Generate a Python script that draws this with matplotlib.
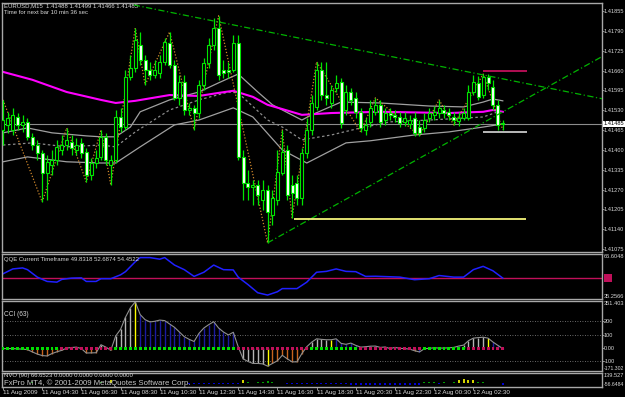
import numpy as np
import matplotlib
matplotlib.use('Agg')
import matplotlib.pyplot as plt
import matplotlib.transforms as mtrans
from matplotlib.ticker import FormatStrFormatter

plt.rcParams['font.family'] = ['Liberation Sans', 'DejaVu Sans']

# EURUSD M15 bars, 11 Aug 2009 02:30 .. 12 Aug 2009 04:00
opens = [1.41466, 1.41482, 1.41466, 1.41508, 1.41482, 1.41492, 1.41443, 1.41416, 1.41390, 1.41325,
         1.41351, 1.41367, 1.41400, 1.41416, 1.41426, 1.41400, 1.41423, 1.41393, 1.41318, 1.41357,
         1.41377, 1.41443, 1.41351, 1.41367, 1.41508, 1.41475, 1.41639, 1.41669, 1.41744, 1.41695,
         1.41662, 1.41646, 1.41653, 1.41689, 1.41751, 1.41679, 1.41571, 1.41623, 1.41531, 1.41538,
         1.41521, 1.41613, 1.41685, 1.41744, 1.41800, 1.41662, 1.41662, 1.41662, 1.41751, 1.41377,
         1.41292, 1.41279, 1.41285, 1.41236, 1.41269, 1.41187, 1.41236, 1.41325, 1.41400, 1.41285,
         1.41292, 1.41243, 1.41390, 1.41466, 1.41541, 1.41662, 1.41580, 1.41554, 1.41603, 1.41623,
         1.41531, 1.41590, 1.41571, 1.41525, 1.41466, 1.41492, 1.41525, 1.41548, 1.41498, 1.41521,
         1.41515, 1.41508, 1.41492, 1.41485, 1.41505, 1.41475, 1.41472, 1.41505, 1.41515, 1.41521,
         1.41531, 1.41525, 1.41508, 1.41495, 1.41505, 1.41505, 1.41590, 1.41620, 1.41580, 1.41639,
         1.41607, 1.41548, 1.41488]
highs = [1.41564, 1.41525, 1.41538, 1.41521, 1.41515, 1.41505, 1.41456, 1.41433, 1.41400, 1.41384,
         1.41400, 1.41433, 1.41449, 1.41472, 1.41449, 1.41439, 1.41439, 1.41407, 1.41374, 1.41400,
         1.41466, 1.41456, 1.41384, 1.41531, 1.41538, 1.41662, 1.41712, 1.41800, 1.41787, 1.41712,
         1.41689, 1.41695, 1.41712, 1.41767, 1.41787, 1.41695, 1.41646, 1.41646, 1.41554, 1.41548,
         1.41630, 1.41702, 1.41767, 1.41833, 1.41840, 1.41695, 1.41689, 1.41777, 1.41777, 1.41400,
         1.41334, 1.41302, 1.41302, 1.41302, 1.41285, 1.41269, 1.41400, 1.41466, 1.41416, 1.41318,
         1.41318, 1.41407, 1.41505, 1.41580, 1.41689, 1.41689, 1.41689, 1.41613, 1.41646, 1.41636,
         1.41613, 1.41603, 1.41590, 1.41538, 1.41505, 1.41564, 1.41571, 1.41564, 1.41538, 1.41538,
         1.41531, 1.41525, 1.41525, 1.41515, 1.41525, 1.41498, 1.41521, 1.41538, 1.41544, 1.41564,
         1.41548, 1.41538, 1.41525, 1.41525, 1.41538, 1.41613, 1.41646, 1.41643, 1.41649, 1.41649,
         1.41630, 1.41564, 1.41499]
lows = [1.41416, 1.41456, 1.41449, 1.41466, 1.41459, 1.41433, 1.41400, 1.41367, 1.41229, 1.41236,
        1.41318, 1.41351, 1.41384, 1.41400, 1.41384, 1.41384, 1.41374, 1.41295, 1.41302, 1.41341,
        1.41367, 1.41351, 1.41285, 1.41357, 1.41459, 1.41466, 1.41630, 1.41656, 1.41679, 1.41613,
        1.41630, 1.41636, 1.41636, 1.41679, 1.41669, 1.41564, 1.41548, 1.41515, 1.41515, 1.41466,
        1.41505, 1.41597, 1.41669, 1.41728, 1.41630, 1.41636, 1.41636, 1.41656, 1.41367, 1.41236,
        1.41236, 1.41220, 1.41220, 1.41203, 1.41095, 1.41154, 1.41220, 1.41318, 1.41236, 1.41177,
        1.41220, 1.41220, 1.41374, 1.41449, 1.41531, 1.41564, 1.41548, 1.41538, 1.41590, 1.41472,
        1.41515, 1.41548, 1.41505, 1.41459, 1.41449, 1.41475, 1.41515, 1.41475, 1.41482, 1.41498,
        1.41492, 1.41475, 1.41479, 1.41472, 1.41446, 1.41446, 1.41459, 1.41492, 1.41498, 1.41505,
        1.41505, 1.41498, 1.41482, 1.41479, 1.41498, 1.41498, 1.41580, 1.41564, 1.41571, 1.41597,
        1.41531, 1.41466, 1.41466]
closes = [1.41498, 1.41505, 1.41515, 1.41482, 1.41492, 1.41443, 1.41416, 1.41390, 1.41325, 1.41361,
          1.41367, 1.41410, 1.41416, 1.41433, 1.41407, 1.41416, 1.41390, 1.41318, 1.41357, 1.41374,
          1.41443, 1.41367, 1.41367, 1.41508, 1.41475, 1.41639, 1.41669, 1.41761, 1.41695, 1.41662,
          1.41646, 1.41662, 1.41689, 1.41754, 1.41679, 1.41571, 1.41623, 1.41531, 1.41538, 1.41521,
          1.41613, 1.41685, 1.41744, 1.41800, 1.41646, 1.41653, 1.41656, 1.41751, 1.41377, 1.41292,
          1.41279, 1.41285, 1.41252, 1.41269, 1.41197, 1.41243, 1.41328, 1.41393, 1.41252, 1.41259,
          1.41243, 1.41390, 1.41466, 1.41554, 1.41662, 1.41580, 1.41571, 1.41597, 1.41620, 1.41489,
          1.41590, 1.41564, 1.41525, 1.41472, 1.41482, 1.41538, 1.41548, 1.41492, 1.41521, 1.41515,
          1.41508, 1.41489, 1.41505, 1.41498, 1.41456, 1.41456, 1.41498, 1.41521, 1.41525, 1.41538,
          1.41521, 1.41515, 1.41498, 1.41505, 1.41521, 1.41590, 1.41623, 1.41574, 1.41639, 1.41620,
          1.41548, 1.41482, 1.41485]

# moving average (magenta) and the three grey envelope lines, read at a few bars
ma_bars = [0, 6, 13, 20, 23, 27, 34, 40, 44, 47, 51, 54, 57, 61, 67, 77, 91, 98, 100, 102]
ma_vals = [1.41656, 1.41630, 1.41590, 1.41564, 1.41554, 1.41561, 1.41580, 1.41577, 1.41587, 1.41594,
           1.41574, 1.41548, 1.41534, 1.41515, 1.41521, 1.41525, 1.41521, 1.41525, 1.41531, 1.41525]
up_bars = [0, 5, 10, 17, 20, 23, 26, 28, 34, 40, 44, 48, 52, 55, 57, 61, 63, 69, 77, 87, 94, 98, 100, 102]
up_vals = [1.41456, 1.41472, 1.41456, 1.41446, 1.41443, 1.41443, 1.41475, 1.41525, 1.41564, 1.41590,
           1.41620, 1.41649, 1.41590, 1.41548, 1.41531, 1.41498, 1.41515, 1.41557, 1.41554, 1.41544,
           1.41541, 1.41557, 1.41567, 1.41561]
mid_bars = [0, 6, 13, 20, 23, 27, 34, 40, 46, 48, 54, 57, 61, 67, 73, 79, 87, 98, 101]
mid_vals = [1.41416, 1.41423, 1.41410, 1.41416, 1.41410, 1.41459, 1.41531, 1.41564, 1.41590, 1.41587,
            1.41498, 1.41475, 1.41433, 1.41449, 1.41472, 1.41492, 1.41498, 1.41508, 1.41525]
lo_bars = [0, 5, 13, 20, 23, 28, 35, 40, 47, 51, 57, 62, 70, 75, 84, 91, 98, 102]
lo_vals = [1.41361, 1.41377, 1.41361, 1.41357, 1.41357, 1.41410, 1.41482, 1.41498, 1.41538, 1.41508,
           1.41400, 1.41357, 1.41423, 1.41430, 1.41449, 1.41459, 1.41475, 1.41485]

# zigzag turning points: bar and whether it is a high
zz_bars = [0, 8, 13, 17, 20, 22, 27, 29, 34, 39, 44, 54, 57, 59, 64, 73, 76, 85, 89, 92, 98, 102]
zz_high = [1, 0, 1, 0, 1, 0, 1, 0, 1, 0, 1, 0, 1, 0, 1, 0, 1, 0, 1, 0, 1, 0]

# trend lines (start bar, anchor bars) and (anchor prices); short horizontal levels
tl_upper = [(26.7, 43, 98), (1.41823, 1.41646)]
tl_lower = [(54, 54, 98), (1.41095, 1.41489)]
levels = [(1.41174, 59.4, 106.7, '#f4f47a'), (1.41660, 98, 107, '#c0105a'), (1.41460, 98, 107, '#c8c8c8')]

# QQE
qqe_bars = [0, 2, 4, 5, 7, 9, 11, 12, 14, 16, 17, 19, 20, 22, 24, 25, 27, 28, 30, 32, 33, 35, 37, 39,
            41, 43, 45, 47, 48, 50, 52, 54, 56, 57, 60, 62, 64, 66, 68, 70, 72, 74, 76, 81, 84, 87,
            89, 92, 94, 96, 98, 100, 102]
qqe_vals = [52.8, 56.2, 56.9, 55.7, 50.5, 47.5, 47.0, 48.9, 49.8, 50.0, 47.5, 47.5, 49.4, 49.4, 52.1,
            54.3, 61.2, 64.1, 64.1, 63.0, 64.1, 58.9, 55.7, 51.0, 53.9, 58.9, 55.7, 55.5, 50.5, 45.3,
            39.6, 38.0, 40.3, 42.5, 42.5, 47.0, 53.9, 54.5, 56.2, 54.5, 54.3, 51.0, 51.1, 50.5, 48.7,
            49.4, 51.6, 50.5, 50.5, 55.7, 58.0, 54.9, 49.8]

# CCI(63) per bar, histogram colour code per bar, and the signal dots on the zero line
cci = [-4, -4, -4, -6, -8, -12, -29, -45, -56, -59, -41, -28, -17, 0, 4, 7, -4, -37, -36, -35,
       25, 7, -17, 90, 140, 230, 300, 345, 250, 212, 195, 200, 209, 205, 180, 155, 120, 85, 65, 49,
       110, 150, 175, 197, 150, 120, 98, 118, 10, -80, -100, -115, -115, -118, -135, -115, -95, -54, -80, -103,
       -103, -41, 10, 44, 69, 65, 62, 62, 69, 35, 28, 37, 20, 7, 10, 14, 15, 5, 8, -4,
       5, -2, -4, -8, -20, -29, -5, -2, 2, 0, 0, 2, 5, 15, 22, 55, 74, 78, 81, 74,
       45, 20, -4]
cci_col = list('oooooooooooooggggoooggo' 'ggggybbbbbbbbbbbbbbbbbbbb' 'ggggggyoooooooo'
               'ggggybbbbbbbbbbbobbbbobb' 'oobbbbbgggggybbbo')
dot_col = list('gggggggggggg' 'mmmmmmmmmmm' 'ggggggggggggggggggggggggg' 'mmmmmmmmmmmmmmm'
               'gggggggggg' 'mmmmmmmmmmmmm' 'ggggggggg' 'mmmmmmmm')

# NVO(90) histogram
nvo = [0, 0, 0, 0, 0, 0, 12, 0, 0, 0, 0, 0, 0, 0, 0, 0, 0, 0, 0, 0,
       12, 0, 35, 0, 0, 0, 0, 0, 0, 0, 0, 0, 0, 0, 0, 0, 0, 0, -8, -8,
       -8, -8, -8, -8, -8, -8, -8, -8, -8, 45, 12, 0, 20, 10, 22, 12, 5, 5, -8, -8,
       -8, -8, -8, -15, -15, -15, -15, -15, -15, -15, -15, -25, -25, -25, -25, -25, -25, -25, -25, -25,
       -25, -35, -35, -35, -35, -35, 8, 8, 8, -20, 8, 6, 12, 35, 50, 45, 40, 12, 10, 6,
       5, 0, -30]

date_bars = [0, 8, 16, 24, 32, 40, 48, 56, 64, 72, 80, 88, 96]
date_labels = ['11 Aug 2009', '11 Aug 04:30', '11 Aug 06:30', '11 Aug 08:30', '11 Aug 10:30',
               '11 Aug 12:30', '11 Aug 14:30', '11 Aug 16:30', '11 Aug 18:30', '11 Aug 20:30',
               '11 Aug 22:30', '12 Aug 00:30', '12 Aug 02:30']

W, H = 625, 397
FG = '#a8a8a8'
TXT = '#d8d8d8'
FS = 4.3
AX_FS = 4.05
fig = plt.figure(figsize=(W / 100, H / 100), dpi=100, facecolor='black')


def panel(x0, y0, x1, y1):
    a = fig.add_axes([x0 / W, 1 - y1 / H, (x1 - x0) / W, (y1 - y0) / H])
    a.set_facecolor('black')
    for s in a.spines.values():
        s.set_color(FG)
        s.set_linewidth(1)
    a.set_xlim(-0.2, 122.25)
    a.set_xticks([])
    a.yaxis.tick_right()
    a.tick_params(colors=FG, labelcolor=TXT, labelsize=AX_FS, length=1.2, width=0.6, pad=0.3)
    return a


bars = np.arange(len(closes))
o, h, l, c = (np.array(v) for v in (opens, highs, lows, closes))

# ---- main price window
ax = panel(2, 3, 602, 252)
ax.set_ylim(1.41065, 1.41882)
ax.set_yticks(1.41075 + 0.00065 * np.arange(13))
ax.yaxis.set_major_formatter(FormatStrFormatter('%.5f'))

ax.axhline(closes[-1], color='#8c8c8c', lw=0.8, zorder=1)
ax.plot(up_bars, up_vals, color='#a0a0a0', lw=0.9, zorder=2)
ax.plot(lo_bars, lo_vals, color='#a0a0a0', lw=0.9, zorder=2)
ax.plot(mid_bars, mid_vals, color='#8c8c8c', lw=0.9, dashes=(2, 2), zorder=2)
ax.plot(ma_bars, ma_vals, color='#ff00ff', lw=1.5, zorder=2)

zz_vals = [highs[b] if hi else lows[b] for b, hi in zip(zz_bars, zz_high)]
ax.plot(zz_bars, zz_vals, color='#d0882c', lw=0.9, dashes=(1, 1.5), zorder=2)

ax.vlines(bars, l, h, color='#00e600', lw=0.9, zorder=3)
body = np.maximum(np.abs(c - o), 0.000012)
ax.bar(bars, body, bottom=np.minimum(o, c), width=0.62,
       color=np.where(c >= o, 'black', 'white'), edgecolor='#00e600', linewidth=0.8, zorder=4)

for (start, b1, b2), (p1, p2) in (tl_upper, tl_lower):
    slope = (p2 - p1) / (b2 - b1)
    xs = np.array([start, 123])
    ax.plot(xs, p1 + slope * (xs - b1), color='#00b400', lw=0.9, dashes=(5, 2, 1, 2), zorder=5)

for price, b0, b1, col in levels:
    ax.hlines(price, b0, b1, color=col, lw=1.3, zorder=5)

ax.text(0.004, 0.998, 'EURUSD,M15  1.41488 1.41499 1.41466 1.41485', transform=ax.transAxes,
        va='top', ha='left', color=TXT, fontsize=FS)
ax.text(0.004, 0.970, 'Time for next bar 10 min 36 sec', transform=ax.transAxes,
        va='top', ha='left', color=TXT, fontsize=FS)
yt = mtrans.blended_transform_factory(ax.transAxes, ax.transData)
ax.text(1.003, closes[-1], '%.5f' % closes[-1], transform=yt, va='center', ha='left', fontsize=AX_FS,
        color='black', bbox=dict(boxstyle='square,pad=0.12', fc='white', ec='none'))

# ---- QQE window
aq = panel(2, 254, 602, 299)
aq.set_ylim(35.2566, 66.6048)
aq.set_yticks([])
aq.axhline(50, color='#c0105a', lw=1)
aq.plot(qqe_bars, qqe_vals, color='#2020ff', lw=1.1)
aq.text(0.004, 0.93, 'QQE Current Timeframe 49.8318 52.6874 54.4522', transform=aq.transAxes,
        va='top', color=TXT, fontsize=FS)
qt = mtrans.blended_transform_factory(aq.transAxes, aq.transData)
aq.text(1.003, 66.6048, '66.6048', transform=qt, va='top', color=TXT, fontsize=AX_FS)
aq.text(1.003, 35.2566, '35.2566', transform=qt, va='bottom', color=TXT, fontsize=AX_FS)
aq.text(1.005, 50, '50', transform=qt, va='center', color='#c0105a', fontsize=3.5,
        bbox=dict(boxstyle='square,pad=0.3', fc='#c0105a', ec='none'))

# ---- CCI window
ac = panel(2, 301, 602, 371)
ac.set_ylim(-171.302, 351.403)
for lev in (200, 100, -100):
    ac.axhline(lev, color='#8c8c8c', lw=0.6, dashes=(1, 2))
ac.set_yticks([200, 100, 0, -100])
ac.set_yticklabels(['200', '100', '0.00', '-100'])
hist_colors = {'o': '#c8641e', 'g': '#b4b4b4', 'b': '#1a1aa0', 'y': '#ffff00'}
ac.vlines(bars, 0, cci, colors=[hist_colors[k] for k in cci_col], lw=1.0)
ac.plot(bars, cci, color='#909090', lw=0.8)
dot_colors = {'g': '#00e000', 'm': '#c0105a'}
ac.scatter(bars, np.zeros(len(bars)), marker='s', s=4.5, c=[dot_colors[k] for k in dot_col],
           linewidths=0, zorder=5)
ac.text(0.004, 0.86, 'CCI (63)', transform=ac.transAxes, va='top', color=TXT, fontsize=FS + 0.4)
ct = mtrans.blended_transform_factory(ac.transAxes, ac.transData)
ac.text(1.003, 351.403, '351.403', transform=ct, va='top', color=TXT, fontsize=AX_FS)
ac.text(1.003, -171.302, '-171.302', transform=ct, va='bottom', color=TXT, fontsize=3.7)

# ---- NVO window
an = panel(2, 373, 602, 387)
an.set_ylim(-56.6484, 139.527)
an.set_yticks([])
nvo = np.array(nvo)
nvo_colors = np.where(nvo >= 30, '#ffff00', np.where(nvo > 0, '#00c000', '#0000ff'))
an.vlines(bars, 0, nvo, colors=nvo_colors, lw=1.2)
an.text(0.004, 0.97, 'NVO (90) 66.6523 0.0000 0.0000 0.0000 0.0000', transform=an.transAxes,
        va='top', color=TXT, fontsize=FS)
an.text(0.004, 0.0, 'FxPro MT4, \u00a9 2001-2009 MetaQuotes Software Corp.', transform=an.transAxes,
        va='bottom', color='#c8c8c8', fontsize=5.6)
nt = mtrans.blended_transform_factory(an.transAxes, an.transData)
an.text(1.003, 139.527, '139.527', transform=nt, va='top', color=TXT, fontsize=AX_FS)
an.text(1.003, -56.6484, '-56.6484', transform=nt, va='bottom', color=TXT, fontsize=3.7)

an.set_xticks(date_bars)
an.set_xticklabels(date_labels)
an.tick_params(axis='x', bottom=True, length=2, width=0.6, colors=FG, labelcolor=TXT,
               labelsize=FS + 0.2, pad=0.4)
for lab in an.get_xticklabels():
    lab.set_ha('left')

fig.savefig('out.png', dpi=100, facecolor='black')
